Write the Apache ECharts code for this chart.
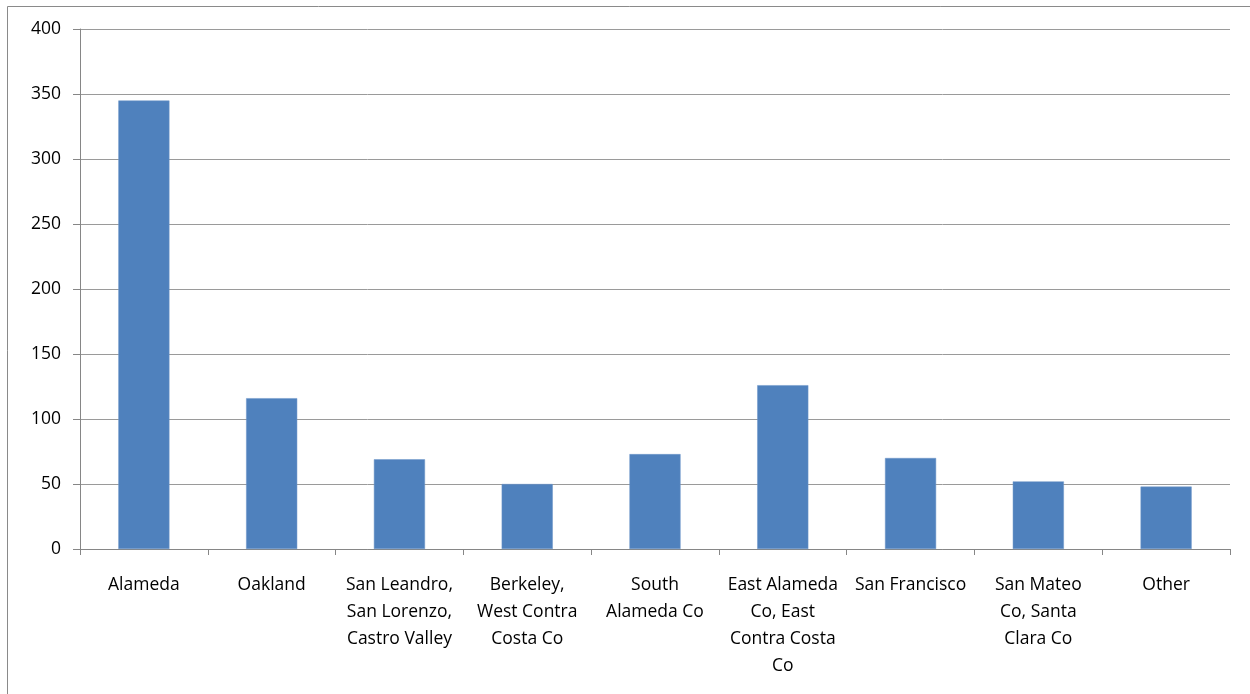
<!DOCTYPE html>
<html>
<head>
<meta charset="utf-8">
<script src="https://cdn.jsdelivr.net/npm/echarts@6/dist/echarts.min.js"></script>
<style>
html,body{margin:0;padding:0;background:#fff;}
#chart{width:1250px;height:694px;}
</style>
</head>
<body>
<div id="chart"></div>
<script>
const categories = [
  "Alameda",
  "Oakland",
  "San Leandro,\nSan Lorenzo,\nCastro Valley",
  "Berkeley,\nWest Contra\nCosta Co",
  "South\nAlameda Co",
  "East Alameda\nCo, East\nContra Costa\nCo",
  "San Francisco",
  "San Mateo\nCo, Santa\nClara Co",
  "Other"
];
const values = [345, 116, 69, 50, 73, 126, 70, 52, 48];

const chart = echarts.init(document.getElementById('chart'));
chart.setOption({
  animation: false,
  backgroundColor: '#fff',
  graphic: [{
    type: 'rect',
    shape: {x: 7.5, y: 6.5, width: 1400, height: 800},
    style: {fill: 'none', stroke: '#8a8a8a', lineWidth: 1},
    silent: true
  }],
  grid: {left: 80, right: 20, top: 29, bottom: 145, containLabel: false},
  xAxis: {
    type: 'category',
    data: categories,
    axisLine: {lineStyle: {color: '#868686', width: 1}},
    axisTick: {show: true, length: 6, lineStyle: {color: '#868686'}},
    axisLabel: {
      color: '#000', fontFamily: 'Open Sans', fontSize: 17.5,
      lineHeight: 27, margin: 23, interval: 0, align: 'center'
    }
  },
  yAxis: {
    type: 'value',
    min: 0, max: 400, interval: 50,
    axisLine: {show: true, lineStyle: {color: '#868686', width: 1}},
    axisTick: {show: true, length: 7, lineStyle: {color: '#868686'}},
    splitLine: {lineStyle: {color: '#9a9a9a', width: 1}},
    axisLabel: {color: '#000', fontFamily: 'Open Sans', fontSize: 17.5, margin: 19}
  },
  series: [{
    type: 'bar',
    data: values,
    barCategoryGap: '60%',
    itemStyle: {color: '#4f81bd', borderColor: '#6f97c9', borderWidth: 0.5}
  }]
});
</script>
</body>
</html>
